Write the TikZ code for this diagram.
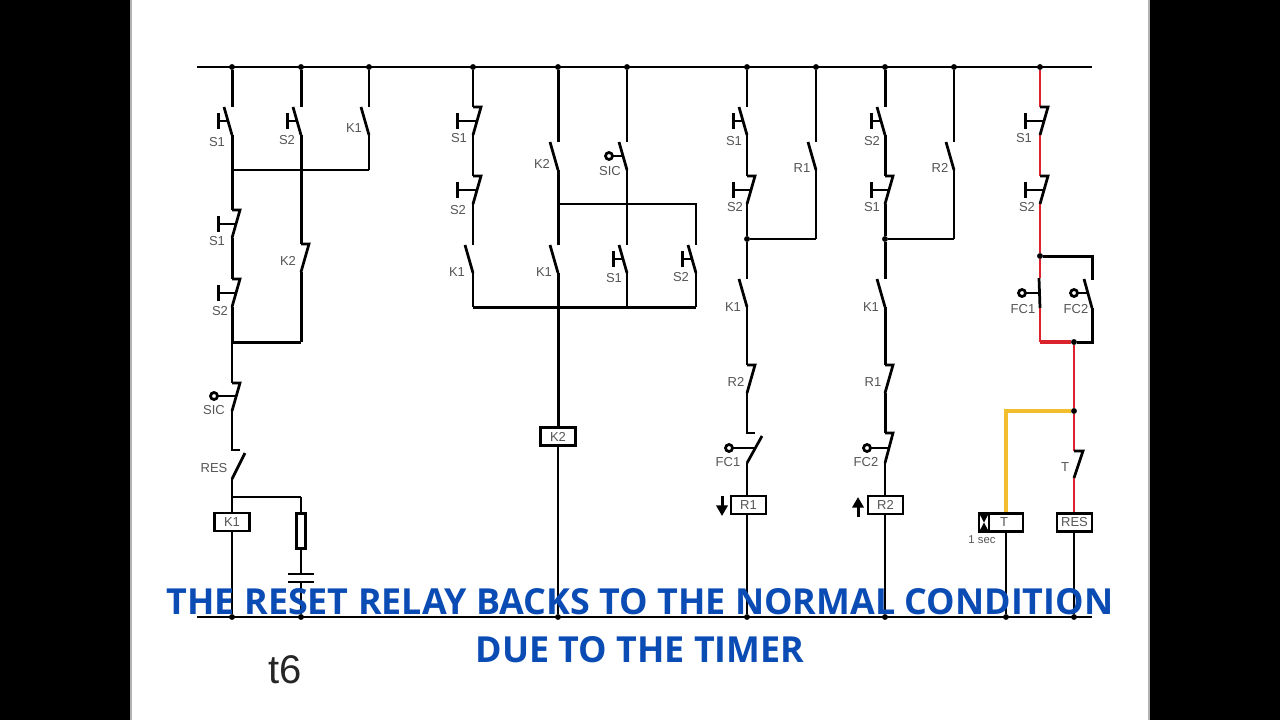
\documentclass[tikz,border=0pt]{standalone}
\usepackage{fontspec}
\setmainfont{Liberation Sans}
\newfontfamily\capfont{Open Sans}
\usetikzlibrary{arrows.meta}

\definecolor{wirered}{RGB}{218,35,45}
\definecolor{wireyellow}{RGB}{242,190,45}
\definecolor{capblue}{RGB}{10,75,180}
\definecolor{lblgray}{RGB}{85,85,85}

\tikzset{
  wire/.style={line width=2.05pt},
  heavy/.style={line width=2.25pt},
  busline/.style={line width=1.7pt},
  hot/.style={line width=2.2pt, color=wirered},
  timed/.style={line width=2.3pt, color=wireyellow},
  lbl/.style={text=lblgray, font=\fontsize{9.75}{11}\selectfont, inner sep=0pt},
  coil/.style={draw, line width=1.9pt, fill=white, text=lblgray, minimum width=26pt, minimum height=13.5pt, inner sep=0pt, font=\fontsize{9.75}{11}\selectfont},
  dot/.style={circle, fill=black, inner sep=0pt, minimum size=4.4pt},
  caption/.style={text=capblue, font=\capfont\bfseries\fontsize{26.9}{30}\selectfont, inner sep=0pt}
}

% contact blades: name, x, y of the upper end
\newcommand{\nocontact}[3]{
  \coordinate (#1t) at (#2,#3);
  \coordinate (#1b) at (#2,#3+28);
  \draw[wire] (#2-8,#3) -- (#1b);
}
\newcommand{\nccontact}[3]{
  \coordinate (#1t) at (#2,#3);
  \coordinate (#1b) at (#2,#3+28);
  \draw[wire] (#1t) -- (#2+8,#3) -- (#1b);
}
% operators: blade x, far x, y
\newcommand{\pushbar}[3]{
  \draw[wire] (#1,#3) -- (#2,#3);
  \draw[heavy] (#2,#3-8) -- (#2,#3+8);
}
\newcommand{\roller}[3]{
  \draw[wire] (#1,#3) -- (#2+3.5,#3);
  \draw[wire] (#2,#3) circle (3.5);
}

\begin{document}
\begin{tikzpicture}[x=0.75pt, y=-0.75pt]
\useasboundingbox (0,0) rectangle (1280,720);
\fill[black] (0,0) rectangle (1280,720);
\fill[gray!60] (130,0) rectangle (1150,720);
\fill[white] (132,0) rectangle (1148,720);

% supply lines
\coordinate (busTL) at (197,67);
\coordinate (busTR) at (1092,67);
\coordinate (busBL) at (197,617);
\coordinate (busBR) at (1092,617);
\draw[busline] (busTL) -- (busTR);
\draw[busline] (busBL) -- (busBR);
\foreach \n/\x in {a/232,b/301,c/369,d/473,e/558,f/627,h/747,i/816,k/885,l/954,n/1040}
  \node[dot] (top\n) at (\x,67) {};
\foreach \n/\x in {a/232,b/301,e/558,h/747,k/885,m/1006,n/1074}
  \node[dot] (bot\n) at (\x,617) {};

% first branch
\nocontact{sa}{232}{107}
\nocontact{sb}{301}{107}
\nocontact{ka}{369}{107}
\pushbar{228}{218}{121}
\pushbar{297}{287}{121}
\coordinate (ja) at (232,170);
\coordinate (jb) at (301,170);
\coordinate (jc) at (369,170);
\draw[heavy] (topa) -- (sat);
\draw[heavy] (topb) -- (sbt);
\draw[wire] (topc) -- (kat);
\draw[heavy] (sab) -- (ja);
\draw[heavy] (sbb) -- (jb);
\draw[wire] (kab) -- (jc);
\draw[wire] (ja) -- (jc);
\nccontact{sc}{232}{210}
\nccontact{sd}{232}{279}
\nccontact{kb}{301}{244}
\nccontact{sic}{232}{383}
\pushbar{236}{218}{224}
\pushbar{236}{218}{293}
\roller{236}{214}{396}
\coordinate (jd) at (232,342);
\coordinate (je) at (301,342);
\draw[heavy] (ja) -- (sct);
\draw[heavy] (scb) -- (sdt);
\draw[heavy] (sdb) -- (jd);
\draw[heavy] (jb) -- (kbt);
\draw[heavy] (kbb) -- (je);
\draw[heavy] (jd) -- (je);
\draw[wire] (jd) -- (sict);
\coordinate (rest) at (232,450);
\coordinate (resb) at (232,479);
\coordinate (jf) at (232,497);
\coordinate (jg) at (301,497);
\draw[wire] (sicb) -- (rest) -- (240,450);
\draw[wire] (245,453) -- (resb);
\draw[wire] (resb) -- (jf) -- (jg);
\node[coil] (coilKa) at (232,522) {K1};
\node[draw, line width=1.8pt, fill=white, minimum width=6.5pt, minimum height=26pt, inner sep=0pt] (resist) at (301,531) {};
\coordinate (capt) at (301,574);
\coordinate (capb) at (301,582);
\draw[wire] (jf) -- (coilKa);
\draw[wire] (coilKa) -- (bota);
\draw[wire] (jg) -- (resist);
\draw[wire] (resist) -- (capt);
\draw[wire] (capb) -- (botb);
\draw[wire] (288,574) -- (314,574);
\draw[wire] (288,582) -- (314,582);

% second branch
\nccontact{se}{473}{107}
\nccontact{sf}{473}{176}
\nocontact{kc}{473}{245}
\nocontact{kd}{558}{142}
\nocontact{ke}{558}{245}
\nocontact{sic2}{627}{142}
\nocontact{sg}{627}{245}
\nocontact{sh}{696}{245}
\pushbar{477}{457}{121}
\pushbar{477}{457}{190}
\roller{623}{609}{156}
\pushbar{623}{613}{259}
\pushbar{692}{682}{259}
\coordinate (jh) at (558,204);
\coordinate (ji) at (627,204);
\coordinate (jj) at (696,204);
\coordinate (jk) at (473,307);
\coordinate (jl) at (558,307);
\coordinate (jm) at (627,307);
\coordinate (jn) at (696,307);
\draw[wire] (topd) -- (set);
\draw[wire] (seb) -- (sft);
\draw[wire] (sfb) -- (kct);
\draw[wire] (kcb) -- (jk);
\draw[heavy] (tope) -- (kdt);
\draw[heavy] (kdb) -- (ket);
\draw[wire] (topf) -- (sic2t);
\draw[wire] (sic2b) -- (sgt);
\draw[wire] (jh) -- (jj) -- (sht);
\draw[wire] (sgb) -- (jm);
\draw[wire] (shb) -- (jn);
\draw[heavy] (jk) -- (jn);
\node[coil] (coilKb) at (558,436.5) {K2};
\draw[heavy] (keb) -- (coilKb);
\draw[wire] (coilKb) -- (bote);

% third branch
\nocontact{si}{747}{107}
\nccontact{sj}{747}{176}
\nocontact{ra}{816}{142}
\nocontact{kf}{747}{279}
\nccontact{rb}{747}{365}
\pushbar{743}{733}{121}
\pushbar{751}{733}{190}
\roller{755}{729}{448}
\node[dot] (jo) at (747,239) {};
\coordinate (jp) at (816,239);
\draw[wire] (toph) -- (sit);
\draw[wire] (sib) -- (sjt);
\draw[wire] (sjb) -- (jo);
\draw[wire] (topi) -- (rat);
\draw[wire] (rab) -- (jp);
\draw[wire] (jo) -- (jp);
\draw[wire] (jo) -- (kft);
\draw[wire] (kfb) -- (rbt);
\coordinate (fct) at (747,433);
\coordinate (fcb) at (747,463);
\draw[wire] (rbb) -- (fct) -- (755,433);
\draw[wire] (762,436) -- (fcb);
\node[coil] (coilRa) at (748.5,505) {R1};
\draw[wire] (fcb) -- (fcb |- coilRa.north);
\draw[wire] (fcb |- coilRa.south) -- (both);
\coordinate (arrowAt) at (722,496);
\coordinate (arrowAb) at (722,516);
\draw[heavy, -{Triangle[length=8pt,width=8.5pt]}] (arrowAt) -- (arrowAb);

% fourth branch
\nocontact{sk}{885}{107}
\nccontact{sl}{885}{176}
\nocontact{rc}{954}{142}
\nocontact{kg}{885}{279}
\nccontact{rd}{885}{365}
\pushbar{881}{871}{121}
\pushbar{889}{871}{190}
\roller{889}{867}{448}
\node[dot] (jq) at (885,239) {};
\coordinate (jr) at (954,239);
\draw[heavy] (topk) -- (skt);
\draw[heavy] (skb) -- (slt);
\draw[heavy] (slb) -- (jq);
\draw[wire] (topl) -- (rct);
\draw[wire] (rcb) -- (jr);
\draw[wire] (jq) -- (jr);
\draw[heavy] (jq) -- (kgt);
\draw[heavy] (kgb) -- (rdt);
\coordinate (fdt) at (885,433);
\coordinate (fdb) at (885,463);
\draw[heavy] (rdb) -- (fdt);
\draw[wire] (fdt) -- (893,433) -- (fdb);
\node[coil] (coilRb) at (885.5,505) {R2};
\draw[wire] (fdb) -- (fdb |- coilRb.north);
\draw[wire] (fdb |- coilRb.south) -- (botk);
\coordinate (arrowBt) at (858,497);
\coordinate (arrowBb) at (858,517);
\draw[heavy, -{Triangle[length=8pt,width=8.5pt]}] (arrowBb) -- (arrowBt);

% fifth branch, live part in red
\coordinate (sea) at (1040,107);
\coordinate (seb2) at (1040,135);
\coordinate (sfa) at (1040,176);
\coordinate (sfb2) at (1040,204);
\node[dot] (js) at (1040,256) {};
\coordinate (fea) at (1040,278);
\coordinate (feb) at (1040,308);
\coordinate (jt) at (1040,342);
\node[dot] (ju) at (1074,342) {};
\coordinate (jv) at (1092,342);
\coordinate (jw) at (1092,256);
\coordinate (ffa) at (1092,280);
\coordinate (ffb) at (1092,308);
\draw[hot] (topn) -- (sea);
\draw[hot] (seb2) -- (sfa);
\draw[hot] (sfb2) -- (js);
\draw[hot] (js) -- (fea);
\draw[hot] (feb) -- (jt);
\draw[hot, line width=2.5pt] (jt) -- (ju);
\draw[heavy] (ju) -- (jv) -- (ffb);
\draw[heavy] (js) -- (jw) -- (ffa);
\draw[wire] (sea) -- (1048,107) -- (seb2);
\draw[wire] (sfa) -- (1048,176) -- (sfb2);
\draw[wire] (1039,278) -- (feb);
\draw[wire] (1084,279) -- (ffb);
\pushbar{1044}{1025}{121}
\pushbar{1044}{1025}{190}
\roller{1039}{1022}{293}
\roller{1088}{1074}{293}
\node[coil, minimum width=33pt] (coilT) at (1001,522.5) {};
\node[lbl] (lblT) at (1004,522.5) {T};
\draw[line width=1.9pt, fill=white] (979,513) rectangle (989,532);
\fill (979,513) -- (989,513) -- (984,522.5) -- cycle;
\fill (979,532) -- (989,532) -- (984,522.5) -- cycle;
\node[coil] (coilRes) at (1074.5,522.5) {RES};
\node[dot] (jx) at (1074,411) {};
\coordinate (jy) at (1006,411);
\coordinate (tct) at (1074,451);
\coordinate (tcb) at (1074,478);
\draw[hot] (ju) -- (jx);
\draw[hot] (jx) -- (tct);
\draw[hot] (tcb) -- (tcb |- coilRes.north);
\draw[wire] (tct) -- (1083,451) -- (tcb);
\draw[timed] (jx) -- (jy) -- (jy |- coilT.north);
\draw[wire] (botm |- coilT.south) -- (botm);
\draw[wire] (botn |- coilRes.south) -- (botn);

% contact names
\node[lbl] (lS1a) at (217,142) {S1};
\node[lbl] (lS2a) at (287,140) {S2};
\node[lbl] (lK1a) at (354,128) {K1};
\node[lbl] (lS1b) at (217,241) {S1};
\node[lbl] (lK2a) at (288,261) {K2};
\node[lbl] (lS2b) at (220,311) {S2};
\node[lbl] (lSICa) at (214,410) {SIC};
\node[lbl] (lRES) at (214,468) {RES};
\node[lbl] (lS1c) at (459,138) {S1};
\node[lbl] (lS2c) at (458,210) {S2};
\node[lbl] (lK1b) at (457,272) {K1};
\node[lbl] (lK2b) at (542,164) {K2};
\node[lbl] (lK1c) at (544,272) {K1};
\node[lbl] (lSICb) at (610,171) {SIC};
\node[lbl] (lS1d) at (614,278) {S1};
\node[lbl] (lS2d) at (681,277) {S2};
\node[lbl] (lS1e) at (734,141) {S1};
\node[lbl] (lS2e) at (735,207) {S2};
\node[lbl] (lR1a) at (802,168) {R1};
\node[lbl] (lK1d) at (733,307) {K1};
\node[lbl] (lR2a) at (736,382) {R2};
\node[lbl] (lFC1a) at (728,462) {FC1};
\node[lbl] (lS2f) at (872,141) {S2};
\node[lbl] (lS1f) at (872,207) {S1};
\node[lbl] (lR2b) at (940,168) {R2};
\node[lbl] (lK1e) at (871,307) {K1};
\node[lbl] (lR1b) at (873,382) {R1};
\node[lbl] (lFC2a) at (866,462) {FC2};
\node[lbl] (lS1g) at (1024,138) {S1};
\node[lbl] (lS2g) at (1027,207) {S2};
\node[lbl] (lFC1b) at (1023,309) {FC1};
\node[lbl] (lFC2b) at (1076,309) {FC2};
\node[lbl] (lTc) at (1065,467) {T};
\node[lbl, font=\fontsize{8.5}{10}\selectfont] (lSec) at (982,540) {1 sec};

\node[inner sep=0pt, font=\fontsize{30}{32}\selectfont, text=black!85] (lStep) at (285,670) {t6};
\node[caption] (capA) at (640,602) {THE RESET RELAY BACKS TO THE NORMAL CONDITION};
\node[caption] (capB) at (640,650) {DUE TO THE TIMER};
\end{tikzpicture}
\end{document}
